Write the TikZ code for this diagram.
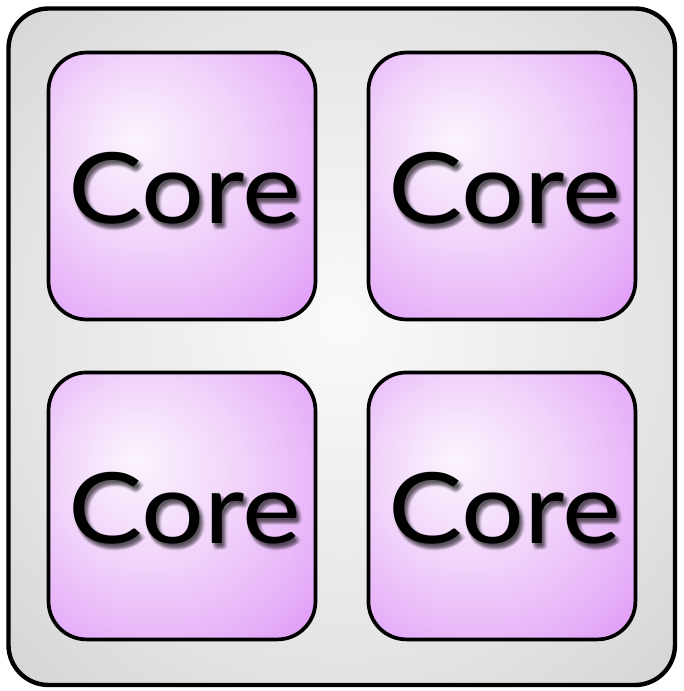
\documentclass[tikz,border=0pt]{standalone}
\usepackage{fontspec}
\setmainfont{Lato}
\usepackage{tikz}
\usetikzlibrary{positioning,fadings}
\definecolor{chipwhite}{HTML}{FAFAFA}
\definecolor{chiplight}{HTML}{EFEFEF}
\definecolor{chipmid}{HTML}{E3E3E3}
\definecolor{chipgray}{HTML}{D4D4D4}
\definecolor{corewhite}{HTML}{FBF4FD}
\definecolor{corelight}{HTML}{F0D2FA}
\definecolor{coremid}{HTML}{E6B0F8}
\definecolor{coredeep}{HTML}{D982F4}
\pgfdeclareradialshading{chipshade}{\pgfpoint{0bp}{2bp}}{color(0bp)=(chipwhite); color(12bp)=(chiplight); color(25bp)=(chipmid); color(36bp)=(chipgray); color(50bp)=(chipgray)}
\pgfdeclareradialshading{coreshade}{\pgfpoint{-9bp}{9bp}}{color(0bp)=(corewhite); color(18bp)=(corelight); color(32bp)=(coremid); color(46bp)=(coredeep); color(60bp)=(coredeep)}
\newcommand{\coreword}{\scalebox{1.13}[1]{\fontsize{56}{60}\selectfont Core}}

% the word as a mask, used for the soft shadow
\begin{tikzfadingfrompicture}[name=corefade]
  \node[text=transparent!0, inner sep=0pt] (fadeword) {\coreword};
\end{tikzfadingfrompicture}

\begin{document}
\begin{tikzpicture}[
  x=0.02cm, y=-0.02cm,
  chip/.style={draw=black, line width=2.5pt, rounded corners=0.8cm, shading=chipshade},
  core/.style={draw=black, line width=2.1pt, rounded corners=0.76cm, shading=coreshade,
      minimum width=5.34cm, minimum height=5.34cm, inner sep=0pt, outer sep=0pt},
  corelabel/.style={inner sep=0pt},
  coreshadow/.style={fill=black, opacity=0.075, path fading=corefade, fit fading=false},
]
\useasboundingbox (0,0) rectangle (684,691);
\draw[chip] (8.5,8.5) rectangle (675,685);

% the four cores
\node[core] (tl) at (182,186) {};
\node[core, right=1.06cm of tl] (tr) {};
\node[core, below=1.06cm of tl] (bl) {};
\node[core, right=1.06cm of bl] (br) {};

% labels with a soft drop shadow
\foreach \c in {tl,tr,bl,br}{
  \foreach \dx/\dy in {2/3, 4/3, 3/5, 3/2, 5/5, 1/4, 4/6, 2/5, 0/2, 6/4, 3/7, 1/6}
    \fill[coreshadow, fading transform={shift={([shift={(\dx+3,\dy+2)}]\c.center)}}]
      ([shift={(\dx-127,\dy-58)}]\c.center) rectangle ([shift={(\dx+133,\dy+62)}]\c.center);
  \node[corelabel] (\c-text) at ([shift={(3,2)}]\c.center) {\coreword};
}
\end{tikzpicture}
\end{document}
